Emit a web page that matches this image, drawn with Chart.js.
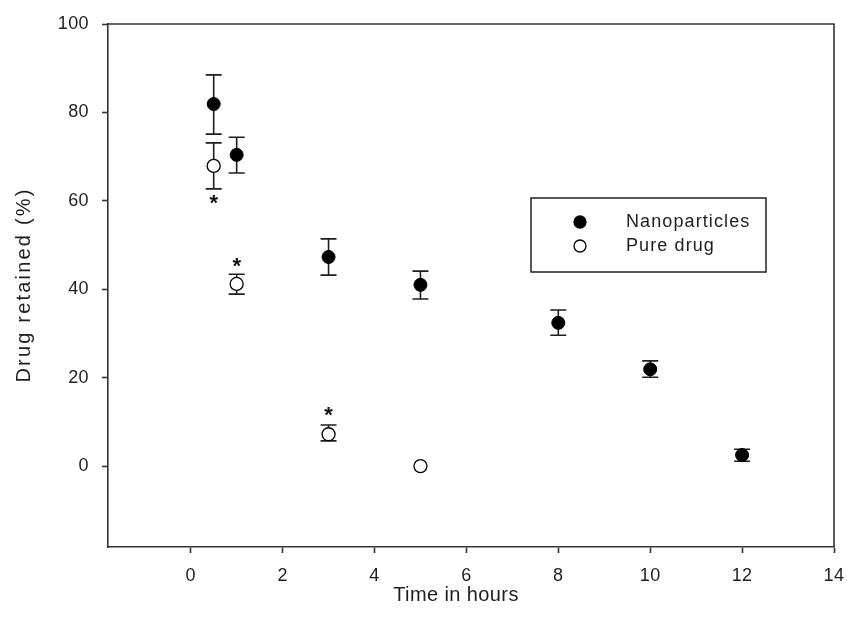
<!DOCTYPE html>
<html>
<head>
<meta charset="utf-8">
<script src="https://cdn.jsdelivr.net/npm/chart.js@4"></script>
<style>
  html, body { margin: 0; padding: 0; background: #fff; }
  canvas { display: block; }
</style>
</head>
<body>
<canvas id="c" width="847" height="630"></canvas>
<script>
// ---- data ----
const timeNano = [0.5, 1, 3, 5, 8, 10, 12];
const nanoValues = [81.9, 70.4, 47.3, 41.0, 32.4, 21.9, 2.5];
const nanoErrUp = [6.6, 4.0, 4.1, 3.1, 2.9, 1.9, 1.3];
const nanoErrDown = [6.8, 4.1, 4.1, 3.2, 2.8, 1.8, 1.4];

const timePure = [0.5, 1, 3, 5];
const pureValues = [67.9, 41.2, 7.2, 0];
const pureErrUp = [5.2, 2.2, 2.1, 0];
const pureErrDown = [5.2, 2.3, 1.5, 0];

const asteriskX = [0.5, 1, 3];
const asteriskY = [59.8, 45.6, 11.8];

const xTicks = [0, 2, 4, 6, 8, 10, 12, 14];
const yTicks = [0, 20, 40, 60, 80, 100];

const seriesLabels = ['Nanoparticles', 'Pure drug'];
const xTitle = 'Time in hours';
const yTitle = 'Drug retained (%)';

// ---- styles ----
const INK = '#1e1e1e';
const FONT = 'Arial, "Liberation Sans", sans-serif';

const toPts = (xs, ys) => xs.map((x, i) => ({ x: x, y: ys[i] }));

const spacingPlugin = {
  id: 'spacing',
  beforeDraw(chart) { chart.ctx.letterSpacing = '0.4px'; }
};

const errorBars = {
  id: 'errorBars',
  beforeDatasetsDraw(chart) {
    const ctx = chart.ctx;
    const xs = chart.scales.x, ys = chart.scales.y;
    const sets = [
      [timeNano, nanoValues, nanoErrUp, nanoErrDown],
      [timePure, pureValues, pureErrUp, pureErrDown]
    ];
    ctx.save();
    ctx.strokeStyle = INK;
    ctx.lineWidth = 1.6;
    const cap = 8;
    sets.forEach(([tx, v, up, dn]) => {
      tx.forEach((t, i) => {
        if (!up[i] && !dn[i]) return;
        const px = xs.getPixelForValue(t);
        const pTop = ys.getPixelForValue(v[i] + up[i]);
        const pBot = ys.getPixelForValue(v[i] - dn[i]);
        ctx.beginPath();
        ctx.moveTo(px, pTop); ctx.lineTo(px, pBot);
        ctx.moveTo(px - cap, pTop); ctx.lineTo(px + cap, pTop);
        ctx.moveTo(px - cap, pBot); ctx.lineTo(px + cap, pBot);
        ctx.stroke();
      });
    });
    ctx.restore();
  }
};

const extras = {
  id: 'extras',
  afterDraw(chart) {
    const ctx = chart.ctx;
    const a = chart.chartArea;
    const xs = chart.scales.x, ys = chart.scales.y;
    ctx.save();
    // frame top/right
    ctx.strokeStyle = '#333';
    ctx.lineWidth = 1.6;
    ctx.beginPath();
    ctx.moveTo(a.left, a.top); ctx.lineTo(a.right, a.top); ctx.lineTo(a.right, a.bottom);
    ctx.stroke();

    // asterisks
    ctx.fillStyle = '#111';
    ctx.font = 'bold 22px ' + FONT;
    ctx.textAlign = 'center';
    ctx.textBaseline = 'middle';
    ctx.letterSpacing = '0px';
    asteriskX.forEach((t, i) => {
      ctx.fillText('*', xs.getPixelForValue(t), ys.getPixelForValue(asteriskY[i]) + 2);
    });

    // axis titles
    ctx.fillStyle = INK;
    ctx.textAlign = 'center';
    ctx.textBaseline = 'middle';
    ctx.letterSpacing = '0.4px';
    ctx.font = '20px ' + FONT;
    ctx.fillText(xTitle, 456, 595);
    ctx.save();
    ctx.letterSpacing = '2.2px';
    ctx.translate(24, 285);
    ctx.rotate(-Math.PI / 2);
    ctx.fillText(yTitle, 0, 0);
    ctx.restore();

    // legend
    const lx = 531, ly = 198, lw = 235, lh = 74;
    ctx.fillStyle = '#fff';
    ctx.fillRect(lx, ly, lw, lh);
    ctx.strokeStyle = '#222';
    ctx.lineWidth = 1.5;
    ctx.strokeRect(lx, ly, lw, lh);
    const ds = chart.data.datasets;
    const rowsY = [222, 246];
    ds.forEach((d, i) => {
      ctx.beginPath();
      ctx.arc(580, rowsY[i], 6, 0, Math.PI * 2);
      ctx.fillStyle = d.backgroundColor;
      ctx.fill();
      ctx.lineWidth = 1.3;
      ctx.strokeStyle = d.borderColor;
      ctx.stroke();
      ctx.fillStyle = INK;
      ctx.font = '18px ' + FONT;
      ctx.letterSpacing = '1.1px';
      ctx.textAlign = 'left';
      ctx.textBaseline = 'middle';
      ctx.fillText(d.label, 626, rowsY[i]);
    });
    ctx.restore();
  }
};

new Chart(document.getElementById('c'), {
  type: 'scatter',
  data: {
    datasets: [
      {
        label: seriesLabels[0],
        data: toPts(timeNano, nanoValues),
        backgroundColor: '#000',
        borderColor: '#000',
        borderWidth: 1,
        pointRadius: 6.5,
        pointHoverRadius: 6.5
      },
      {
        label: seriesLabels[1],
        data: toPts(timePure, pureValues),
        backgroundColor: '#fff',
        borderColor: '#000',
        borderWidth: 1.3,
        pointRadius: 6.5,
        pointHoverRadius: 6.5
      }
    ]
  },
  options: {
    responsive: false,
    animation: false,
    events: [],
    layout: { padding: { top: 24, right: 13, left: 0, bottom: 0 } },
    plugins: { legend: { display: false }, tooltip: { enabled: false } },
    scales: {
      x: {
        type: 'linear',
        min: -1.8,
        max: 14,
        afterBuildTicks(s) { s.ticks = xTicks.map(v => ({ value: v })); },
        afterFit(s) { s.height = 83; s.paddingLeft = 0; s.paddingRight = 0; },
        grid: { display: true, drawOnChartArea: false, drawTicks: true, tickLength: 6, tickWidth: 1.6, tickColor: '#333' },
        border: { display: true, color: '#333', width: 1.6 },
        ticks: { color: INK, font: { size: 18, family: FONT }, padding: 12, maxRotation: 0 }
      },
      y: {
        type: 'linear',
        min: -18.3,
        max: 100,
        afterBuildTicks(s) { s.ticks = yTicks.map(v => ({ value: v })); },
        afterFit(s) { s.width = 108; s.paddingTop = 0; s.paddingBottom = 0; },
        grid: { display: true, drawOnChartArea: false, drawTicks: true, tickLength: 6, tickWidth: 1.6, tickColor: '#333' },
        border: { display: true, color: '#333', width: 1.6 },
        ticks: { color: INK, font: { size: 18, family: FONT }, padding: 13 }
      }
    }
  },
  plugins: [spacingPlugin, errorBars, extras]
});
</script>
</body>
</html>
